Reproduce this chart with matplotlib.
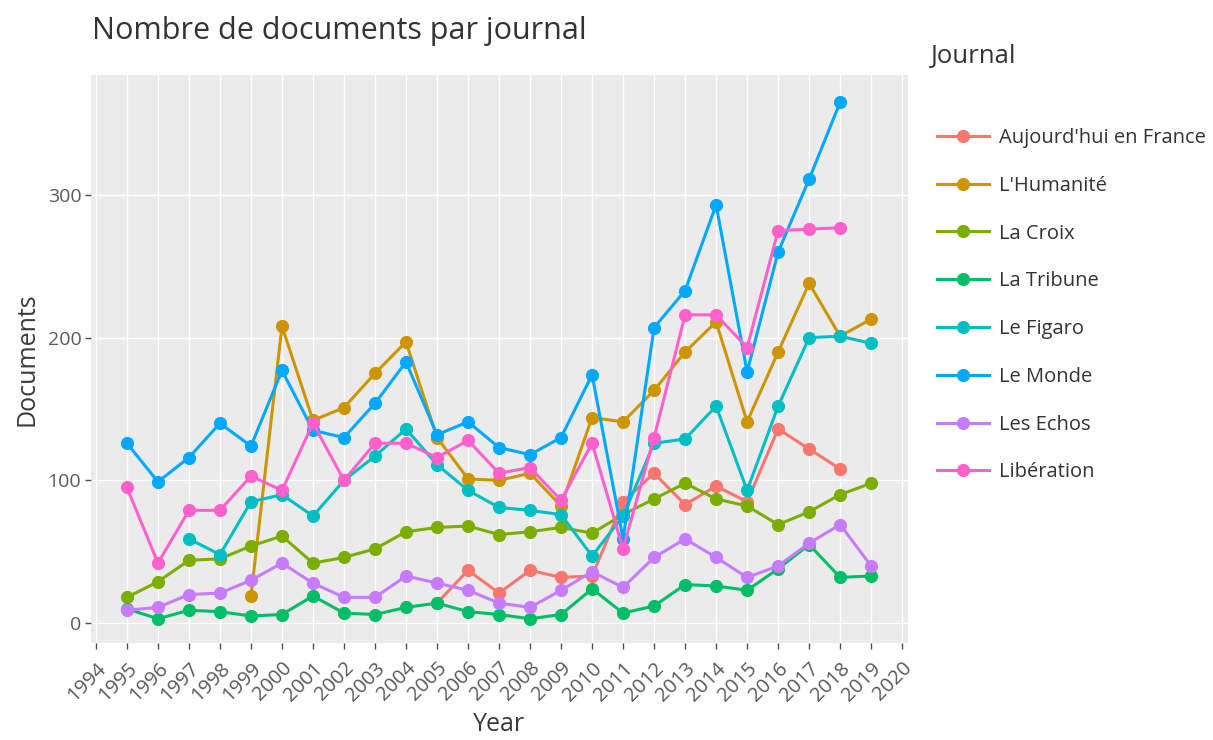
import numpy as np
import matplotlib
matplotlib.use("Agg")
import matplotlib.pyplot as plt

plt.rcParams['font.family'] = ['Open Sans', 'DejaVu Sans']

nan = np.nan
years = list(range(1995, 2020))

journals = ["Aujourd'hui en France", "L'Humanité", "La Croix", "La Tribune",
            "Le Figaro", "Le Monde", "Les Echos", "Libération"]
colors = ["#F8766D", "#CD9600", "#7CAE00", "#00BE67",
          "#00BFC4", "#00A9FF", "#C77CFF", "#FF61CC"]

# values, 1995..2019
aujourdhui = [nan, nan, nan, nan, nan, nan, nan, nan, nan, nan, 14, 37, 21, 37, 32,
              33, 85, 105, 83, 96, 85, 136, 122, 108, nan]
humanite = [nan, nan, nan, nan, 19, 208, 142, 151, 175, 197, 130, 101, 100, 105, 82,
            144, 141, 163, 190, 211, 141, 190, 238, 201, 213]
croix = [18, 29, 44, 45, 54, 61, 42, 46, 52, 64, 67, 68, 62, 64, 67,
         63, 76, 87, 98, 87, 82, 69, 78, 90, 98]
tribune = [10, 3, 9, 8, 5, 6, 19, 7, 6, 11, 14, 8, 6, 3, 6,
           24, 7, 12, 27, 26, 23, 38, 55, 32, 33]
figaro = [nan, nan, 59, 48, 85, 90, 75, 100, 117, 136, 111, 93, 81, 79, 76,
          47, 75, 126, 129, 152, 93, 152, 200, 201, 196]
monde = [126, 99, 116, 140, 124, 177, 135, 130, 154, 183, 132, 141, 123, 118, 130,
         174, 59, 207, 233, 293, 176, 260, 311, 365, nan]
echos = [9, 11, 20, 21, 30, 42, 28, 18, 18, 33, 28, 23, 14, 11, 23,
         36, 25, 46, 59, 46, 32, 40, 56, 69, 40]
liberation = [95, 42, 79, 79, 103, 93, 140, 100, 126, 126, 116, 128, 105, 109, 86,
              126, 52, 130, 216, 216, 193, 275, 276, 277, nan]

series = [aujourdhui, humanite, croix, tribune, figaro, monde, echos, liberation]

fig = plt.figure(figsize=(12.13, 7.40), dpi=100)
ax = fig.add_axes([0.075, 0.131, 0.6736, 0.7676])
ax.set_facecolor('#EBEBEB')

for name, vals, col in zip(journals, series, colors):
    ax.plot(years, vals, color=col, lw=2.2, marker='o', ms=9.5,
            markeredgewidth=0, label=name)

ax.set_xlim(1993.84, 2020.19)
ax.set_ylim(-14, 384)
ax.set_xticks(range(1994, 2021))
ax.set_yticks([0, 100, 200, 300])
ax.grid(True, color='white', lw=1.0)
ax.set_axisbelow(True)
for s in ax.spines.values():
    s.set_visible(False)
ax.tick_params(axis='both', colors='#4D4D4D', labelcolor='#5A5A5A',
               length=4, width=1)
ax.tick_params(axis='x', labelsize=14.5, pad=7)
ax.tick_params(axis='y', labelsize=14, pad=3)
plt.setp(ax.get_xticklabels(), rotation=45, ha='right', rotation_mode='anchor')

ax.set_xlabel('Year', fontsize=18, color='#3A3A3A', labelpad=5)
ax.set_ylabel('Documents', fontsize=18, color='#3A3A3A', labelpad=6)
fig.text(0.076, 0.958, 'Nombre de documents par journal', fontsize=22,
         color='#333333', va='center', ha='left')

fig.text(0.767, 0.923, 'Journal', fontsize=18.5, color='#333333', va='center')
leg = fig.legend(loc='upper left', bbox_to_anchor=(0.766, 0.838), frameon=False,
                 fontsize=14.5, labelspacing=1.38, handlelength=2.55,
                 handletextpad=0.5, borderaxespad=0)
for t in leg.get_texts():
    t.set_color('#333333')

fig.savefig('out.png', dpi=100)
